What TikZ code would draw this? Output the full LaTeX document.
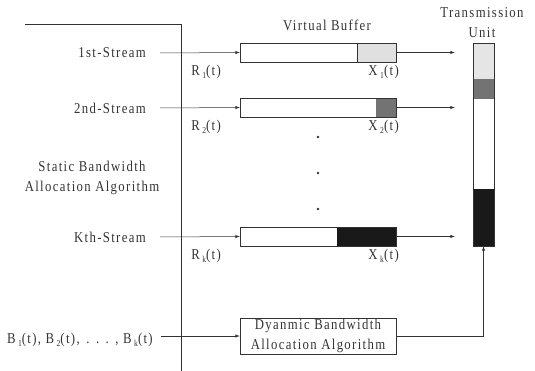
\documentclass[tikz,border=0pt]{standalone}
\usepackage{fontspec}
\setmainfont{Liberation Serif}[LetterSpace=9,FakeStretch=0.85]
\usetikzlibrary{positioning}

\newcommand{\lowidx}[1]{\,\raisebox{-3pt}{\fontsize{9}{9}\selectfont #1}}

\tikzset{
  lbl/.style={font=\fontsize{15}{20}\selectfont, inner sep=0pt},
  buffer/.style={draw, minimum width=156pt, minimum height=19pt, inner sep=0pt},
}

\begin{document}
\begin{tikzpicture}[x=1pt,y=-1pt,line width=0.5pt,color=black!80,>=latex]
\useasboundingbox (0,0) rectangle (535,371);

% left frame
\draw (25,24) -- (181,24) -- (181,371);

% titles
\node[lbl] (vbuf) at (327,25) {Virtual Buffer};
\node[lbl,align=center] (tutitle) at (482,23) {Transmission\\Unit};

% stream labels
\node[lbl,anchor=east] (s1) at (146,53) {1st-Stream};
\node[lbl,anchor=east] (s2) at (146,108) {2nd-Stream};
\node[lbl,align=center] (sba) at (92,178) {Static Bandwidth\\Allocation Algorithm};
\node[lbl,anchor=east] (sk) at (146,237) {Kth-Stream};
\node[lbl,anchor=east] (sb) at (153,340)
  {B\lowidx{1}(t), B\lowidx{2}(t),\kern2pt\ .\kern2pt\ .\kern2pt\ .\kern2pt\ , B\lowidx{k}(t)};

% shaded parts of the buffers
\fill[black!12] (357,43) rectangle (396,62);
\fill[black!55] (376,98) rectangle (396,117);
\fill[black!90] (337,227) rectangle (396,246);
\draw (357,43) -- (357,62);

% buffers
\node[buffer] (buf1) at (318,52.5) {};
\node[buffer] (buf2) at (318,107.5) {};
\node[buffer] (bufk) at (318,236.5) {};

% transmission unit
\fill[black!10] (473,43) rectangle (494,79);
\fill[black!55] (473,79) rectangle (494,99);
\fill[black!90] (473,189) rectangle (494,246);
\node[draw,minimum width=21pt,minimum height=203pt,inner sep=0pt] (tu) at (483.5,144.5) {};

% rates and buffer levels
\node[lbl,anchor=west] (r1) at (191,72) {R\lowidx{1}(t)};
\node[lbl,anchor=west] (r2) at (191,127) {R\lowidx{2}(t)};
\node[lbl,anchor=west] (rk) at (191,256) {R\lowidx{k}(t)};
\node[lbl,anchor=east] (x1) at (399,72) {X\lowidx{1}(t)};
\node[lbl,anchor=east] (x2) at (399,127) {X\lowidx{2}(t)};
\node[lbl,anchor=east] (xk) at (399,256) {X\lowidx{k}(t)};

\foreach \y in {137,173,209}
  \fill (318,\y) circle (1.3pt);

% dynamic allocation
\node[draw,lbl,align=center,minimum width=156pt,minimum height=36pt] (dyn) at (318,336)
  {Dyanmic Bandwidth\\Allocation Algorithm};

% arrows
\draw[->] ([xshift=14pt]s1.east) -- (buf1.west);
\draw[->] ([xshift=14pt]s2.east) -- (buf2.west);
\draw[->] ([xshift=14pt]sk.east) -- (bufk.west);
\draw[->] (sb.east |- dyn.west) ++(8,0) -- (dyn.west);
\draw[->,shorten >=18pt] (buf1.east) -- (buf1.east -| tu.west);
\draw[->,shorten >=18pt] (buf2.east) -- (buf2.east -| tu.west);
\draw[->,shorten >=18pt] (bufk.east) -- (bufk.east -| tu.west);
\draw[->] (dyn.east) -| (tu.south);

\end{tikzpicture}
\end{document}
